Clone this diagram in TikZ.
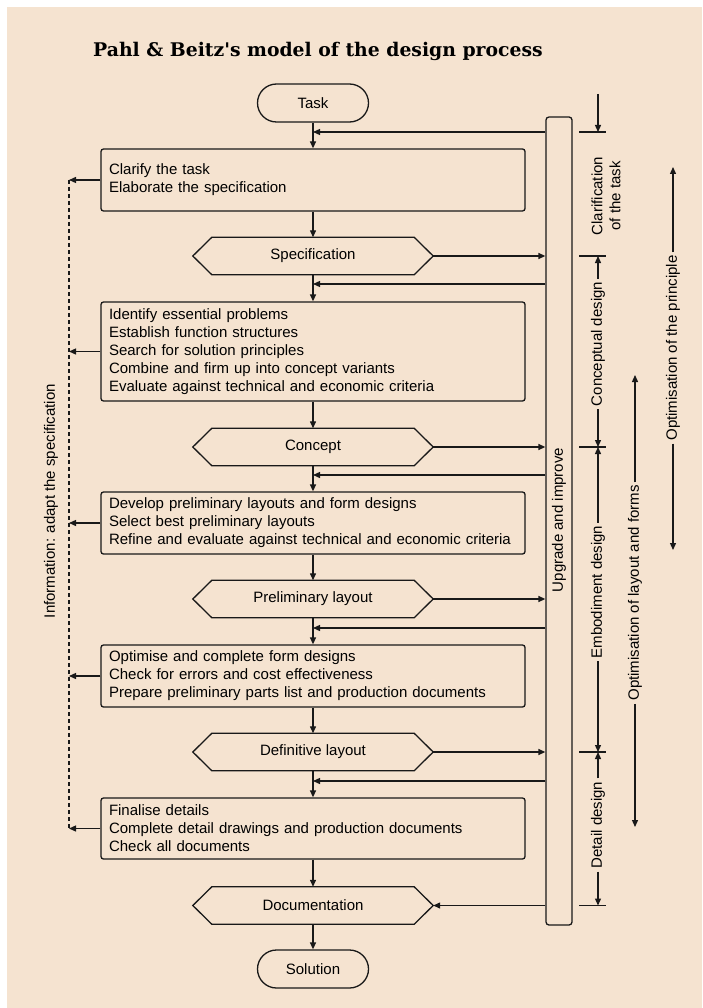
\documentclass[tikz,border=0pt]{standalone}
\usepackage{fontspec}
\setmainfont{Liberation Sans}
\newfontfamily\titlefont{DejaVu Serif}
\usetikzlibrary{arrows.meta,shapes.misc,calc}
\definecolor{bgc}{RGB}{245,227,208}
\definecolor{ink}{RGB}{25,25,25}
\newcommand\boxfont{\fontsize{15}{18}\selectfont}
\tikzset{
  ln/.style={draw=ink, line width=1.3pt},
  arr/.style={ln, -{Triangle[length=7pt,width=6pt]}},
  procbox/.style={ln, rounded corners=2.5pt, minimum width=424pt, text width=408pt,
    inner xsep=8pt, inner ysep=0pt, align=left, font=\boxfont},
  hexnode/.style={minimum width=240pt, minimum height=37pt, inner sep=0pt, font=\boxfont},
  term/.style={ln, rounded rectangle, minimum width=111pt, minimum height=38pt,
    inner sep=0pt, font=\boxfont},
  vlabel/.style={rotate=90, font=\boxfont, inner xsep=3pt, inner ysep=2pt},
  dashline/.style={draw=ink, line width=1.3pt, dash pattern=on 4pt off 3pt},
}
\newcommand\hexshape[1]{\draw[ln, line join=miter] (#1.west) -- ([xshift=19pt]#1.north west) -- ([xshift=-19pt]#1.north east) -- (#1.east) -- ([xshift=-19pt]#1.south east) -- ([xshift=19pt]#1.south west) -- cycle;}
\begin{document}
\begin{tikzpicture}[x=1pt,y=-1pt]
\useasboundingbox (0,0) rectangle (702,1008);
\fill[bgc] (7,7) rectangle (702,1008);
\node[font=\titlefont\bfseries\fontsize{18.8}{22}\selectfont, anchor=base, inner sep=0pt] (title) at (318,57) {Pahl \& Beitz's model of the design process};

% main column
\node[term] (task) at (313,103) {Task};
\node[procbox, minimum height=62pt] (b1) at (313,180) {Clarify the task\\Elaborate the specification};
\node[hexnode] (spec) at (313,256) {Specification}; \hexshape{spec}
\node[procbox, minimum height=99pt] (b2) at (313,351.5) {Identify essential problems\\Establish function structures\\Search for solution principles\\Combine and firm up into concept variants\\Evaluate against technical and economic criteria};
\node[hexnode] (concept) at (313,447) {Concept}; \hexshape{concept}
\node[procbox, minimum height=62pt] (b3) at (313,523) {Develop preliminary layouts and form designs\\Select best preliminary layouts\\Refine and evaluate against technical and economic criteria};
\node[hexnode] (prelim) at (313,599) {Preliminary layout}; \hexshape{prelim}
\node[procbox, minimum height=62pt] (b4) at (313,676) {Optimise and complete form designs\\Check for errors and cost effectiveness\\Prepare preliminary parts list and production documents};
\node[hexnode] (defin) at (313,752) {Definitive layout}; \hexshape{defin}
\node[procbox, minimum height=61pt] (b5) at (313,828.5) {Finalise details\\Complete detail drawings and production documents\\Check all documents};
\node[hexnode] (doc) at (313,905.5) {Documentation}; \hexshape{doc}
\node[term] (sol) at (313,969) {Solution};

\draw[arr] (task.south) -- (b1.north);
\draw[arr] (b1.south) -- (spec.north);
\draw[arr] (spec.south) -- (b2.north);
\draw[arr] (b2.south) -- (concept.north);
\draw[arr] (concept.south) -- (b3.north);
\draw[arr] (b3.south) -- (prelim.north);
\draw[arr] (prelim.south) -- (b4.north);
\draw[arr] (b4.south) -- (defin.north);
\draw[arr] (defin.south) -- (b5.north);
\draw[arr] (b5.south) -- (doc.north);
\draw[arr] (doc.south) -- (sol.north);

% upgrade bar
\node[ln, rounded corners=3pt, minimum width=26pt, minimum height=808pt, inner sep=0pt] (bar) at (559,521) {};
\node[rotate=90, font=\boxfont, inner sep=0pt] (barlabel) at (559,520) {Upgrade and improve};

\coordinate (j1) at (313,132);
\coordinate (j2) at (313,284);
\coordinate (j3) at (313,475);
\coordinate (j4) at (313,628);
\coordinate (j5) at (313,781);
\foreach \j in {j1,j2,j3,j4,j5} \draw[arr] (bar.west |- \j) -- (\j);

\draw[arr] (spec.east) -- (spec.east -| bar.west);
\draw[arr] (concept.east) -- (concept.east -| bar.west);
\draw[arr] (prelim.east) -- (prelim.east -| bar.west);
\draw[arr] (defin.east) -- (defin.east -| bar.west);
\draw[arr] (doc.east -| bar.west) -- (doc.east);

% information feedback (left)
\coordinate (dtop) at (69,180);
\coordinate (dbot) at (69,828.5);
\draw[dashline] (dtop) -- (dbot);
\foreach \b in {b1,b2,b3,b4,b5} \draw[arr] (\b.west) -- (\b.west -| dtop);
\node[vlabel] (info) at (51,501) {Information: adapt the specification};

% phases (right)
\coordinate (k0) at (598,94);
\coordinate (k1) at (598,132);
\coordinate (k2) at (598,256);
\coordinate (k3) at (598,447);
\coordinate (k4) at (598,752);
\coordinate (k5) at (598,905.5);
\foreach \k in {k1,k2,k3,k4,k5} \draw[ln] ([xshift=-19pt]\k) -- ([xshift=8pt]\k);
\draw[arr] (k0) -- (k1);
\node[vlabel, align=center] (clar) at (606,196) {Clarification\\of the task};
\node[vlabel] (conc) at (598,344) {Conceptual design};
\draw[arr] (conc.east) -- (k2);
\draw[arr] (conc.west) -- (k3);
\node[vlabel] (emb) at (598,592) {Embodiment design};
\draw[arr] (emb.east) -- (k3);
\draw[arr] (emb.west) -- (k4);
\node[vlabel] (det) at (598,825) {Detail design};
\draw[arr] (det.east) -- (k4);
\draw[arr] (det.west) -- (k5);

\coordinate (o1a) at (635,375);
\coordinate (o1b) at (635,827);
\node[vlabel] (optl) at (635,593) {Optimisation of layout and forms};
\draw[arr] (optl.east) -- (o1a);
\draw[arr] (optl.west) -- (o1b);

\coordinate (o2a) at (673,167);
\coordinate (o2b) at (673,550);
\node[vlabel] (optp) at (673,348) {Optimisation of the principle};
\draw[arr] (optp.east) -- (o2a);
\draw[arr] (optp.west) -- (o2b);
\end{tikzpicture}
\end{document}
